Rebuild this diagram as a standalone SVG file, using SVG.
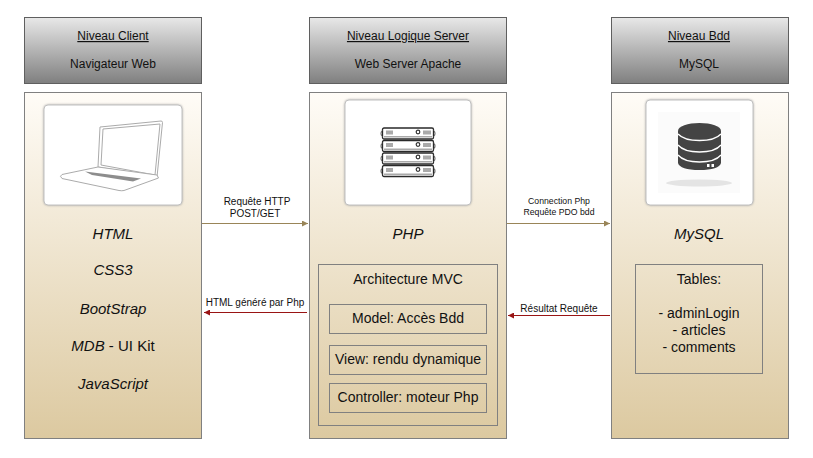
<svg xmlns="http://www.w3.org/2000/svg" width="813" height="458" viewBox="0 0 813 458">
<style>
text{font-family:"Liberation Sans",Arial,sans-serif;fill:#111;text-anchor:middle}
.h{font-size:12px}.u{text-decoration:underline}
.l{font-size:10px}
.s{font-size:8.7px}
.i{font-size:15px;font-style:italic}
.m{font-size:14px}
.hd{fill:url(#g);stroke:#5f5f5f;stroke-width:1}
.col{fill:url(#b);stroke:#808080;stroke-width:1}
.in{fill:none;stroke:#808080;stroke-width:1}
.card{fill:#fff;stroke:#c0c0c0;stroke-width:1;filter:url(#s)}
.tan{stroke:#998558;stroke-width:1.2;fill:none}
.red{stroke:#991414;stroke-width:1.2;fill:none}
.lap{fill:#fff;stroke:#ababab;stroke-width:1}
.srv{fill:#fff;stroke:#2a2a2a;stroke-width:1.3}
</style>
<defs>
<linearGradient id="g" x1="0" y1="0" x2="0" y2="1"><stop offset="0" stop-color="#e8e8e8"/><stop offset="1" stop-color="#7f7f7f"/></linearGradient>
<linearGradient id="b" x1="0" y1="0" x2="0" y2="1"><stop offset="0" stop-color="#fffcf7"/><stop offset="1" stop-color="#dcc9a0"/></linearGradient>
<filter id="s" x="-5%" y="-5%" width="110%" height="110%"><feDropShadow dx="0" dy="0" stdDeviation="1.200" flood-color="#8a8a8a" flood-opacity=".7"/></filter>
<marker id="at" markerWidth="7" markerHeight="6" refX="6" refY="3" orient="auto" markerUnits="userSpaceOnUse"><path d="M0 0L6 3L0 6Z" fill="#998558"/></marker>
<marker id="ar" markerWidth="7" markerHeight="6" refX="6" refY="3" orient="auto" markerUnits="userSpaceOnUse"><path d="M0 0L6 3L0 6Z" fill="#991414"/></marker>
<g id="srvunit"><rect x="1.500" y="0" width="51" height="11" rx="1.500" class="srv"/><path d="M1.500 2.500Q0 3 0 5.500Q0 8 1.500 8.500M52.500 2.500Q54 3 54 5.500Q54 8 52.500 8.500" fill="none" stroke="#555"/><rect x="3" y="8" width="48" height="1.500" fill="#aaa"/><rect x="5" y="2.500" width="7" height="4" fill="#aaa"/><rect x="42" y="2.500" width="8" height="4" fill="#aaa"/><circle cx="37" cy="4" r="1.800" fill="#fff" stroke="#333" stroke-width="1.200"/></g>
</defs>
<g id="node-client-header"><rect class="hd" x="24.500" y="17.500" width="177" height="66"/><text class="h u" x="113" y="40">Niveau Client</text><text class="h" x="113" y="68">Navigateur Web</text></g>
<g id="node-server-header"><rect class="hd" x="309.500" y="17.500" width="197" height="66"/><text class="h u" x="408" y="40">Niveau Logique Server</text><text class="h" x="408" y="68">Web Server Apache</text></g>
<g id="node-bdd-header"><rect class="hd" x="611.500" y="17.500" width="177" height="66"/><text class="h u" x="699" y="40">Niveau Bdd</text><text class="h" x="699" y="68">MySQL</text></g>
<g id="node-client"><rect class="col" x="24.500" y="92.500" width="177" height="346"/><rect class="card" x="44" y="105" width="138" height="100" rx="4"/>
<g id="laptop"><path class="lap" d="M100 127L161 121Q162.500 121 162.500 122.500L157 177L98 167Z"/><path class="lap" d="M103 129L160 124L155 175L101 165Z"/><path class="lap" d="M98 167L157 175L158.500 178L124 190.500Q122 191 119 190.500L62 178.500Q59 176 62 174.500Z"/><path d="M85 171.500L141 178.500L133 181.500L92 175Z" fill="#8d8d8d"/></g>
<text class="i" x="113" y="239">HTML</text><text class="i" x="113" y="275">CSS3</text><text class="i" x="113" y="314">BootStrap</text><text class="i" x="113" y="351"><tspan>MDB</tspan><tspan font-style="normal"> - UI Kit</tspan></text><text class="i" x="113" y="389">JavaScript</text></g>
<g id="node-server"><rect class="col" x="309.500" y="92.500" width="197" height="346"/><rect class="card" x="345" y="100" width="126" height="105" rx="4"/>
<g id="servers"><use href="#srvunit" x="381" y="128"/><use href="#srvunit" x="381" y="140.500"/><use href="#srvunit" x="381" y="153"/><use href="#srvunit" x="381" y="165.500"/></g>
<text class="i" x="408" y="239">PHP</text>
<rect class="in" x="318.500" y="264.500" width="179" height="161"/><text class="m" x="408" y="284">Architecture MVC</text>
<rect class="in" x="329.500" y="304.500" width="157" height="29"/><text class="m" x="408" y="323">Model: Accès Bdd</text>
<rect class="in" x="329.500" y="345.500" width="157" height="29"/><text class="m" x="408" y="364">View: rendu dynamique</text>
<rect class="in" x="329.500" y="383.500" width="157" height="29"/><text class="m" x="408" y="402">Controller: moteur Php</text></g>
<g id="node-bdd"><rect class="col" x="611.500" y="92.500" width="177" height="346"/><rect class="card" x="646" y="100" width="107" height="105" rx="4"/>
<g id="db"><rect x="658" y="112" width="82" height="81" fill="#fbfbfb"/><ellipse cx="699" cy="183" rx="33" ry="3.500" fill="#e4e4e4"/><path d="M678 131V163Q680 170 699.500 170Q719 170 721 163V131Z" fill="#444"/><ellipse cx="699.500" cy="131" rx="21.500" ry="8" fill="#444"/><path d="M678 134Q684 140.500 699.500 140.500Q715 140.500 721 134M678 145Q684 152 699.500 152Q715 152 721 145M678 155Q684 162 699.500 162Q715 162 721 155" fill="none" stroke="#fff" stroke-width="1.300"/><rect x="707" y="164" width="2.500" height="3" fill="#fff"/><rect x="711.500" y="164" width="2.500" height="3" fill="#fff"/></g>
<text class="i" x="699" y="239">MySQL</text><rect class="in" x="635.500" y="264.500" width="127" height="109"/>
<text class="m" x="699" y="284">Tables:</text><text class="m" x="699" y="318">- adminLogin</text><text class="m" x="699" y="335">- articles</text><text class="m" x="699" y="352">- comments</text></g>
<g id="connectors"><path class="tan" marker-end="url(#at)" d="M202 223.500H308"/><path class="tan" marker-end="url(#at)" d="M507 223.500H610"/><path class="red" marker-end="url(#ar)" d="M307 312.500H204"/><path class="red" marker-end="url(#ar)" d="M610 315.500H508"/>
<text class="l" x="257" y="205">Requête HTTP</text><text class="l" x="255" y="217">POST/GET</text><text class="s" x="559" y="204">Connection Php</text><text class="s" x="559" y="215">Requête PDO bdd</text><text class="l" x="255" y="306">HTML généré par Php</text><text class="l" x="559" y="312">Résultat Requête</text></g>
</svg>
